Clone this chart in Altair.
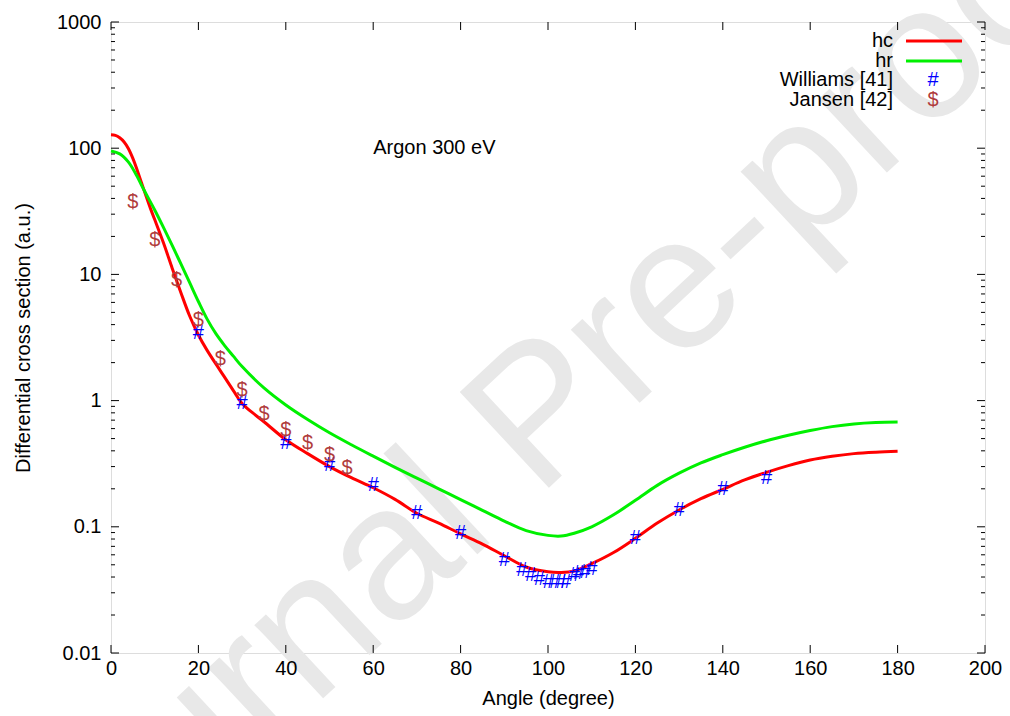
import altair as alt
import pandas as pd

# ---------------- data ----------------
hc_angle = [0, 1, 2, 3, 4, 5, 6, 7, 8, 9, 10, 12, 14, 16, 18, 20, 22, 25, 28, 30, 33, 35,
            40, 45, 50, 55, 60, 65, 70, 75, 80, 85, 90, 95, 100, 103, 106, 110, 115, 120,
            125, 130, 135, 140, 145, 150, 155, 160, 165, 170, 175, 180]
hc_value = [128, 126.5, 121, 112, 99, 83, 67, 53, 42, 33.5, 27.2, 17.8, 11.2, 7.16, 4.68,
            3.31, 2.5, 1.73, 1.2, 0.95, 0.77, 0.68, 0.49, 0.38, 0.30, 0.245, 0.204, 0.165,
            0.128, 0.107, 0.088, 0.073, 0.059, 0.048, 0.044, 0.0435, 0.0447, 0.051, 0.0625,
            0.081, 0.107, 0.136, 0.167, 0.198, 0.235, 0.270, 0.305, 0.338, 0.362, 0.380,
            0.390, 0.396]

hr_angle = [0, 2, 4, 6, 7, 8, 10, 12, 14, 16, 18, 20, 22, 24, 26, 28, 30, 35, 40, 45, 50,
            55, 60, 65, 70, 75, 80, 85, 90, 95, 100, 103, 106, 110, 115, 120, 125, 130,
            135, 140, 145, 150, 155, 160, 165, 170, 175, 180]
hr_value = [95, 90.2, 77.6, 59.6, 50.7, 43.6, 32.4, 23.6, 17.0, 12.1, 8.6, 6.1, 4.42, 3.39,
            2.73, 2.25, 1.86, 1.26, 0.923, 0.708, 0.556, 0.447, 0.363, 0.296, 0.243, 0.200,
            0.164, 0.135, 0.111, 0.0933, 0.0855, 0.0845, 0.089, 0.100, 0.1245, 0.162,
            0.213, 0.266, 0.321, 0.373, 0.427, 0.481, 0.531, 0.579, 0.622, 0.653, 0.670,
            0.676]

williams_angle = [20, 30, 40, 50, 60, 70, 80, 90, 94, 96, 98, 100, 101.5, 103, 104, 106,
                  107, 108.5, 110, 120, 130, 140, 150]
williams_value = [3.45, 0.95, 0.46, 0.309, 0.214, 0.128, 0.0887, 0.055, 0.0455, 0.0415,
                  0.0384, 0.0366, 0.0366, 0.0366, 0.0366, 0.0415, 0.0428, 0.0436, 0.0459,
                  0.081, 0.136, 0.198, 0.242]

jansen_angle = [5, 10, 15, 20, 25, 30, 35, 40, 45, 50, 54]
jansen_value = [37.7, 18.8, 9.0, 4.35, 2.12, 1.21, 0.79, 0.585, 0.46, 0.371, 0.29]

x_ticks = [0, 20, 40, 60, 80, 100, 120, 140, 160, 180, 200]
y_major = [0.01, 0.1, 1, 10, 100, 1000]
y_minor = [k * 10.0 ** e for e in range(-2, 3) for k in range(2, 10)]

# ---------------- chart ----------------
W, H = 874, 631
FONT = "Liberation Sans"
FS = 20
GREEN = "#00f000"

xscale = alt.Scale(domain=[0, 200], nice=False, zero=False)
yscale = alt.Scale(type="log", domain=[0.01, 1000], nice=False)

hc_df = pd.DataFrame({"angle": hc_angle, "value": hc_value})
hr_df = pd.DataFrame({"angle": hr_angle, "value": hr_value})
wi_df = pd.DataFrame({"angle": williams_angle, "value": williams_value})
ja_df = pd.DataFrame({"angle": jansen_angle, "value": jansen_value})
one = pd.DataFrame({"a": [0]})

x_axis = alt.Axis(values=x_ticks, ticks=False, domain=False, grid=False, labelFlush=False,
                  labelOverlap=False, zindex=1,
                  labelFontSize=FS, labelPadding=5, labelFont=FONT, labelColor="black",
                  title="Angle (degree)", titleFontSize=FS, titleFont=FONT,
                  titleFontWeight="normal", titleColor="black", titlePadding=10)
y_axis = alt.Axis(values=y_major, format="~g", ticks=False, domain=False, grid=False,
                  labelFlush=False, labelOverlap=False, zindex=1,
                  labelFontSize=FS, labelPadding=10, labelFont=FONT, labelColor="black",
                  title="Differential cross section (a.u.)", titleFontSize=FS,
                  titleFont=FONT, titleFontWeight="normal", titleColor="black",
                  titlePadding=23)


def X(field):
    return alt.X(field, scale=xscale, axis=x_axis)


def Y(field):
    return alt.Y(field, scale=yscale, axis=y_axis)


watermark = alt.Chart(one).mark_text(
    text="Journal Pre-proof", font=FONT, fontSize=190, angle=317, color="#e8e8e8",
    align="center", baseline="middle"
).encode(x=alt.value(430), y=alt.value(395))

hc_line = alt.Chart(hc_df).mark_line(color="#ff0000", strokeWidth=3,
                                     interpolate="catmull-rom").encode(
    x=X("angle:Q"), y=Y("value:Q"))
hr_line = alt.Chart(hr_df).mark_line(color=GREEN, strokeWidth=3,
                                     interpolate="catmull-rom").encode(
    x=X("angle:Q"), y=Y("value:Q"))
wi_pts = alt.Chart(wi_df).mark_text(text="#", font=FONT, fontSize=FS, color="#0000ff",
                                    align="center", baseline="middle").encode(
    x=X("angle:Q"), y=Y("value:Q"))
ja_pts = alt.Chart(ja_df).mark_text(text="$", font=FONT, fontSize=FS, color="#b03c3c",
                                    align="center", baseline="middle").encode(
    x=X("angle:Q"), y=Y("value:Q"))

# inward ticks (gnuplot style), mirrored on all sides
xt = pd.DataFrame({"t": x_ticks})
ymj = pd.DataFrame({"t": y_major})
ymn = pd.DataFrame({"t": y_minor})
tick_style = dict(color="black", strokeWidth=1)
MJ, MN = 8, 4


def xtick(y0, y1):
    return alt.Chart(xt).mark_rule(**tick_style).encode(
        x=X("t:Q"), y=alt.value(y0), y2=alt.value(y1))


def ytick(df, x0, x1):
    return alt.Chart(df).mark_rule(**tick_style).encode(
        y=Y("t:Q"), x=alt.value(x0), x2=alt.value(x1))


ticks = [
    xtick(H, H - MJ), xtick(0, MJ),
    ytick(ymj, 0, MJ), ytick(ymj, W, W - MJ),
    ytick(ymn, 0, MN), ytick(ymn, W, W - MN),
]

# annotation
argon = alt.Chart(one).mark_text(text="Argon 300 eV", font=FONT, fontSize=FS,
                                 color="black", align="left", baseline="middle").encode(
    x=alt.X(datum=60, scale=xscale, axis=x_axis),
    y=alt.Y(datum=100, scale=yscale, axis=y_axis))

# legend (gnuplot style: label right-aligned, sample on the right)
LX_TEXT, LX0, LX1, LX_SYM = 782, 795, 851, 822
rows = [19, 39, 58, 78]


def leg_text(label, y):
    return alt.Chart(one).mark_text(text=label, font=FONT, fontSize=FS, color="black",
                                    align="right", baseline="middle").encode(
        x=alt.value(LX_TEXT), y=alt.value(y))


legend = [
    leg_text("hc", rows[0]),
    alt.Chart(one).mark_rule(color="#ff0000", strokeWidth=3).encode(
        x=alt.value(LX0), x2=alt.value(LX1), y=alt.value(rows[0])),
    leg_text("hr", rows[1]),
    alt.Chart(one).mark_rule(color=GREEN, strokeWidth=3).encode(
        x=alt.value(LX0), x2=alt.value(LX1), y=alt.value(rows[1])),
    leg_text("Williams [41]", rows[2]),
    alt.Chart(one).mark_text(text="#", font=FONT, fontSize=FS, color="#0000ff",
                             align="center", baseline="middle").encode(
        x=alt.value(LX_SYM), y=alt.value(rows[2])),
    leg_text("Jansen [42]", rows[3]),
    alt.Chart(one).mark_text(text="$", font=FONT, fontSize=FS, color="#b03c3c",
                             align="center", baseline="middle").encode(
        x=alt.value(LX_SYM), y=alt.value(rows[3])),
]

chart = alt.layer(
    watermark, hc_line, hr_line, wi_pts, ja_pts, *ticks, argon, *legend
).properties(
    width=W, height=H,
    padding={"left": 111, "top": 22, "right": 25, "bottom": 63},
    autosize=alt.AutoSizeParams(type="none"),
    background="white",
).configure_view(stroke="black", strokeWidth=1).configure(font=FONT)

chart.save("out.html", embed_options={"renderer": "svg", "actions": False})
